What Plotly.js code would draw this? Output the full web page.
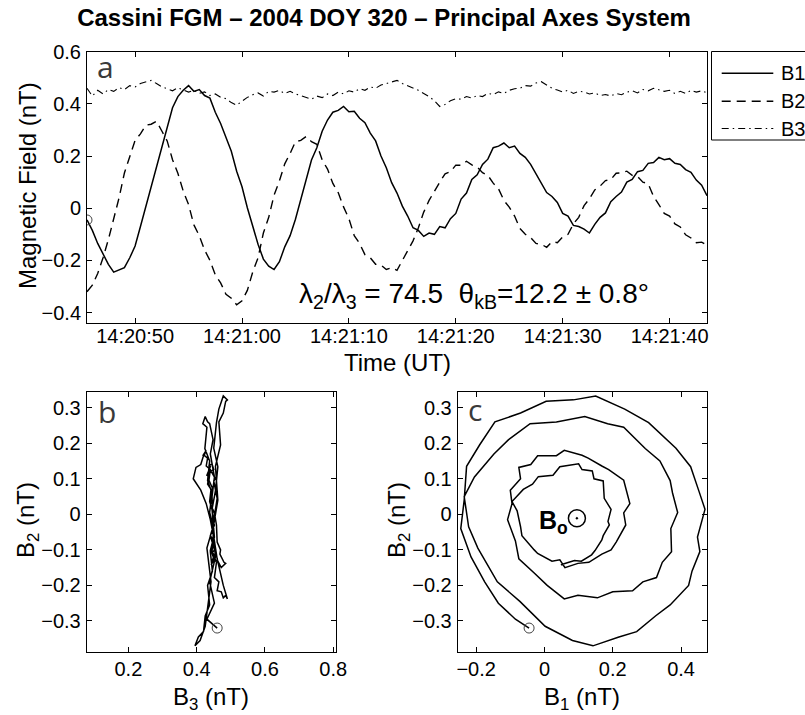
<!DOCTYPE html>
<html><head><meta charset="utf-8">
<script src="https://cdn.plot.ly/plotly-3.0.1.min.js"></script>
<style>html,body{margin:0;padding:0;background:#fff}#chart{width:805px;height:715px}</style>
</head><body><div id="chart"></div><script>
// seconds after 14:20:00 UT, 2004 DOY 320 (15 Nov)
const SECONDS = [45.5,46,46.5,47,47.5,48,48.5,49,49.5,50,50.5,51,51.5,52,52.5,53,53.5,54,54.5,55,55.5,56,56.5,57,57.5,58,58.5,59,59.5,60,
60.5,61,61.5,62,62.5,63,63.5,64,64.5,65,65.5,66,66.5,67,67.5,68,68.5,69,69.5,70,70.5,71,71.5,72,72.5,73,73.5,74,74.5,75,
75.5,76,76.5,77,77.5,78,78.5,79,79.5,80,80.5,81,81.5,82,82.5,83,83.5,84,84.5,85,85.5,86,86.5,87,87.5,88,88.5,89,89.5,90,
90.5,91,91.5,92,92.5,93,93.5,94,94.5,95,95.5,96,96.5,97,97.5,98,98.5,99,99.5,100,100.5,101,101.5,102,102.5,103,103.5];

const B1 = [-0.045,-0.085,-0.135,-0.175,-0.215,-0.245,-0.235,-0.228,-0.19,-0.145,
-0.07,0.005,0.085,0.15,0.235,0.305,0.385,0.428,0.452,0.47,
0.448,0.455,0.432,0.422,0.368,0.325,0.27,0.218,0.142,0.082,
0.002,-0.072,-0.138,-0.195,-0.222,-0.235,-0.205,-0.148,-0.105,-0.042,
0.035,0.118,0.185,0.232,0.295,0.338,0.368,0.375,0.39,0.37,
0.372,0.345,0.328,0.288,0.258,0.2,0.155,0.098,0.058,0.008,
-0.03,-0.075,-0.085,-0.108,-0.095,-0.1,-0.07,-0.075,-0.04,-0.02,
0.035,0.058,0.11,0.128,0.168,0.188,0.232,0.238,0.25,0.232,
0.238,0.21,0.195,0.168,0.13,0.098,0.06,0.045,0.022,-0.02,
-0.03,-0.066,-0.07,-0.08,-0.095,-0.062,-0.035,-0.018,0.025,0.045,
0.062,0.1,0.11,0.14,0.145,0.172,0.175,0.195,0.186,0.19,
0.172,0.168,0.148,0.138,0.108,0.088,0.048];

const B2 = [-0.32,-0.295,-0.25,-0.19,-0.12,-0.04,0.04,0.135,0.195,0.26,
0.285,0.318,0.322,0.333,0.296,0.258,0.186,0.134,0.066,0.014,
-0.064,-0.105,-0.16,-0.2,-0.255,-0.286,-0.33,-0.345,-0.37,-0.355,
-0.315,-0.245,-0.19,-0.095,-0.035,0.05,0.105,0.17,0.21,0.255,
0.26,0.275,0.255,0.245,0.185,0.15,0.095,0.06,0.005,-0.04,
-0.105,-0.135,-0.178,-0.19,-0.215,-0.218,-0.235,-0.228,-0.238,-0.2,
-0.165,-0.125,-0.075,-0.015,0.03,0.068,0.1,0.132,0.14,0.165,
0.165,0.18,0.166,0.158,0.136,0.126,0.096,0.074,0.03,0.004,
-0.03,-0.078,-0.1,-0.112,-0.135,-0.138,-0.15,-0.128,-0.132,-0.11,
-0.1,-0.06,-0.035,0.01,0.036,0.07,0.085,0.106,0.11,0.134,
0.136,0.142,0.126,0.122,0.1,0.094,0.045,0.014,-0.02,-0.03,
-0.06,-0.072,-0.102,-0.114,-0.132,-0.13,-0.142];

const B3 = [0.46,0.43,0.452,0.438,0.455,0.448,0.462,0.455,0.47,0.465,
0.478,0.485,0.49,0.478,0.465,0.458,0.45,0.462,0.455,0.445,
0.452,0.44,0.446,0.432,0.438,0.425,0.42,0.405,0.395,0.41,
0.425,0.435,0.442,0.43,0.448,0.445,0.452,0.44,0.448,0.438,
0.432,0.425,0.418,0.43,0.424,0.438,0.432,0.445,0.438,0.45,
0.445,0.458,0.452,0.465,0.46,0.472,0.478,0.485,0.49,0.478,
0.47,0.46,0.452,0.44,0.428,0.412,0.39,0.398,0.412,0.42,
0.418,0.428,0.422,0.432,0.428,0.44,0.436,0.446,0.44,0.452,
0.458,0.46,0.47,0.468,0.48,0.485,0.472,0.46,0.453,0.445,
0.452,0.44,0.448,0.446,0.438,0.442,0.432,0.436,0.43,0.44,
0.435,0.445,0.45,0.442,0.455,0.45,0.46,0.455,0.448,0.452,
0.44,0.448,0.44,0.452,0.445,0.45,0.442];

// background field direction marker (out of page) in panel c
const B0_B1 = [0.095];
const B0_B2 = [-0.011];

const LEGEND_NAMES = ['B1','B2','B3'];

function pad(n){ return (n < 10 ? '0' : '') + n; }
const TIMES = SECONDS.map(s => {
  const m = 20 + Math.floor(s / 60);
  const sec = s - 60 * Math.floor(s / 60);
  const whole = Math.floor(sec);
  const frac = sec - whole;
  return '2004-11-15 14:' + pad(m) + ':' + pad(whole) + (frac ? '.' + Math.round(frac * 1000) : '');
});

const FONT = 'Liberation Sans, Arial, Helvetica, sans-serif';
const W = 805, H = 715;
const px = x => x / W;
const py = y => 1 - y / H;

const STYLES = [
  {color: '#000', width: 1.5},
  {color: '#000', width: 1.4, dash: '9px,6px'},
  {color: '#000', width: 1.1, dash: '7px,4px,1.5px,4px'}
];

const traces = [
  {x: TIMES, y: B1, name: LEGEND_NAMES[0], mode: 'lines', line: STYLES[0], xaxis: 'x', yaxis: 'y'},
  {x: TIMES, y: B2, name: LEGEND_NAMES[1], mode: 'lines', line: STYLES[1], xaxis: 'x', yaxis: 'y'},
  {x: TIMES, y: B3, name: LEGEND_NAMES[2], mode: 'lines', line: STYLES[2], xaxis: 'x', yaxis: 'y'},
  {x: [TIMES[0]], y: [B1[0]], mode: 'markers', marker: {symbol: 'circle-open', size: 10, color: '#444', line: {width: 1}}, xaxis: 'x', yaxis: 'y'},
  {x: B3, y: B2, mode: 'lines', line: {color: '#000', width: 1.5}, xaxis: 'x2', yaxis: 'y2'},
  {x: [B3[0]], y: [B2[0]], mode: 'markers', marker: {symbol: 'circle-open', size: 10, color: '#444', line: {width: 1}}, xaxis: 'x2', yaxis: 'y2'},
  {x: B1, y: B2, mode: 'lines', line: {color: '#000', width: 1.5}, xaxis: 'x3', yaxis: 'y3'},
  {x: [B1[0]], y: [B2[0]], mode: 'markers', marker: {symbol: 'circle-open', size: 10, color: '#444', line: {width: 1}}, xaxis: 'x3', yaxis: 'y3'},
  {x: B0_B1, y: B0_B2, mode: 'markers', marker: {symbol: 'circle-open-dot', size: 17, color: '#000', line: {width: 1.5}}, xaxis: 'x3', yaxis: 'y3'}
];

const axBase = {
  ticks: 'inside', ticklen: 5, tickwidth: 1, tickcolor: '#000',
  showline: true, linecolor: '#000', linewidth: 1, mirror: 'ticks',
  showgrid: false, zeroline: false, fixedrange: true,
  tickfont: {family: FONT, size: 20, color: '#000'}
};

// hand-drawn legend (box runs off the right edge, as in the original figure)
const LEG_X0 = 711.5, LEG_Y0 = 51.5, LEG_Y1 = 140;
const LEG_ROWS = [73.3, 101.2, 128.5];
const shapes = [
  {type: 'rect', xref: 'paper', yref: 'paper', x0: px(LEG_X0), x1: px(840), y0: py(LEG_Y1), y1: py(LEG_Y0),
   line: {color: '#000', width: 1}, fillcolor: '#fff', layer: 'above'}
];
const legendText = [];
LEGEND_NAMES.forEach((name, i) => {
  shapes.push({type: 'line', xref: 'paper', yref: 'paper', x0: px(721.7), x1: px(773.3), y0: py(LEG_ROWS[i]), y1: py(LEG_ROWS[i]),
               line: Object.assign({}, STYLES[i]), layer: 'above'});
  legendText.push({text: name, xref: 'paper', yref: 'paper', x: px(778.5), y: py(LEG_ROWS[i]), showarrow: false,
                   xanchor: 'left', yanchor: 'middle', font: {family: FONT, size: 20, color: '#000'}});
});

const layout = {
  width: W, height: H,
  margin: {l: 0, r: 0, t: 0, b: 0},
  paper_bgcolor: '#fff', plot_bgcolor: '#fff',
  font: {family: FONT, color: '#000'},
  showlegend: false,
  title: {text: '<b>Cassini FGM – 2004 DOY 320 – Principal Axes System</b>', font: {family: FONT, size: 24, color: '#000'},
          xref: 'container', yref: 'container', x: px(384), xanchor: 'center', y: py(18), yanchor: 'middle'},
  xaxis: Object.assign({}, axBase, {domain: [px(87), px(707)], anchor: 'y', type: 'date',
          range: ['2004-11-15 14:20:45.5', '2004-11-15 14:21:43.5'], tickformat: '%H:%M:%S',
          tick0: '2004-11-15 14:20:50', dtick: 10000, ticklabelstandoff: -5}),
  yaxis: Object.assign({}, axBase, {domain: [py(323), py(51.7)], anchor: 'x', range: [-0.44, 0.6], tick0: 0, dtick: 0.2, ticklabelstandoff: 1}),
  xaxis2: Object.assign({}, axBase, {domain: [px(86.7), px(336)], anchor: 'y2', range: [0.078, 0.808], tickvals: [0.2, 0.4, 0.6, 0.8], ticklabelstandoff: -1}),
  yaxis2: Object.assign({}, axBase, {domain: [py(651.7), py(391.7)], anchor: 'x2', range: [-0.3865, 0.345], tick0: 0, dtick: 0.1, ticklabelstandoff: 1}),
  xaxis3: Object.assign({}, axBase, {domain: [px(457.7), px(706.7)], anchor: 'y3', range: [-0.254, 0.475], tickvals: [-0.2, 0, 0.2, 0.4], ticklabelstandoff: -1}),
  yaxis3: Object.assign({}, axBase, {domain: [py(651.7), py(391.7)], anchor: 'x3', range: [-0.3865, 0.345], tick0: 0, dtick: 0.1, ticklabelstandoff: 1}),
  shapes: shapes,
  annotations: [
    {text: 'Magnetic Field (nT)', xref: 'paper', yref: 'paper', x: px(27), y: py(186), textangle: -90, showarrow: false, font: {family: FONT, size: 24}, xanchor: 'center', yanchor: 'middle'},
    {text: 'Time (UT)', xref: 'paper', yref: 'paper', x: px(397), y: py(362), showarrow: false, font: {family: FONT, size: 24}, xanchor: 'center', yanchor: 'middle'},
    {text: 'B<sub>2</sub> (nT)', xref: 'paper', yref: 'paper', x: px(27), y: py(520), textangle: -90, showarrow: false, font: {family: FONT, size: 24}, xanchor: 'center', yanchor: 'middle'},
    {text: 'B<sub>3</sub> (nT)', xref: 'paper', yref: 'paper', x: px(211.4), y: py(698), showarrow: false, font: {family: FONT, size: 24}, xanchor: 'center', yanchor: 'middle'},
    {text: 'B<sub>2</sub> (nT)', xref: 'paper', yref: 'paper', x: px(398), y: py(520), textangle: -90, showarrow: false, font: {family: FONT, size: 24}, xanchor: 'center', yanchor: 'middle'},
    {text: 'B<sub>1</sub> (nT)', xref: 'paper', yref: 'paper', x: px(582.2), y: py(698), showarrow: false, font: {family: FONT, size: 24}, xanchor: 'center', yanchor: 'middle'},
    {text: 'λ<sub>2</sub>/λ<sub>3</sub> = 74.5\u00a0\u00a0θ<sub>kB</sub>=12.2 ± 0.8°', xref: 'paper', yref: 'paper', x: px(297), y: py(295), showarrow: false, font: {family: FONT, size: 28}, xanchor: 'left', yanchor: 'middle'},
    {text: 'a', xref: 'paper', yref: 'paper', x: px(95), y: py(66), showarrow: false, font: {family: 'Open Sans, sans-serif', size: 30, color: '#3a3a3a'}, xanchor: 'left', yanchor: 'middle'},
    {text: 'b', xref: 'paper', yref: 'paper', x: px(96), y: py(411), showarrow: false, font: {family: 'Open Sans, sans-serif', size: 30, color: '#3a3a3a'}, xanchor: 'left', yanchor: 'middle'},
    {text: 'c', xref: 'paper', yref: 'paper', x: px(466), y: py(409), showarrow: false, font: {family: 'Open Sans, sans-serif', size: 30, color: '#3a3a3a'}, xanchor: 'left', yanchor: 'middle'},
    {text: '<b>B<sub>o</sub></b>', xref: 'paper', yref: 'paper', x: px(537), y: py(522), showarrow: false, font: {family: FONT, size: 25}, xanchor: 'left', yanchor: 'middle'}
  ].concat(legendText)
};

Plotly.newPlot('chart', traces, layout, {staticPlot: true, displayModeBar: false});
</script></body></html>
